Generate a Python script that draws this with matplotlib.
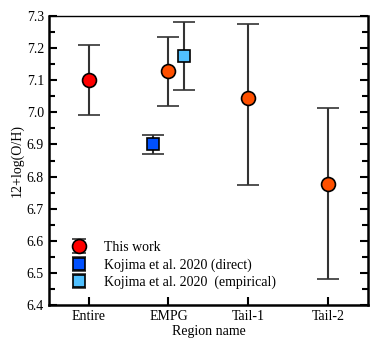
import matplotlib
matplotlib.use('Agg')
import matplotlib.pyplot as plt
from matplotlib.ticker import MultipleLocator
from matplotlib.legend_handler import HandlerErrorbar

plt.rcParams['font.family'] = ['Liberation Serif', 'DejaVu Serif']

# categories and data
regions = ['Entire', 'EMPG', 'Tail-1', 'Tail-2']

this_x = [0, 1, 2, 3]
this_val = [7.10, 7.128, 7.043, 6.777]
this_lo = [0.11, 0.108, 0.269, 0.296]
this_hi = [0.11, 0.107, 0.232, 0.237]
this_colors = ['#ff0000', '#ff5000', '#ff5000', '#ff5000']

kd_x = [0.8]
kd_val = [6.90]
kd_lo = [0.03]
kd_hi = [0.03]

ke_x = [1.2]
ke_val = [7.175]
ke_lo = [0.105]
ke_hi = [0.105]

fig, ax = plt.subplots(figsize=(3.81, 3.49), dpi=100)
fig.subplots_adjust(left=0.128, right=0.966, top=0.955, bottom=0.125)

ecol = '#333333'
for i in range(len(this_x)):
    ax.errorbar(this_x[i], this_val[i], yerr=[[this_lo[i]], [this_hi[i]]],
                fmt='o', ms=10, mfc=this_colors[i], mec='black', mew=1.2,
                ecolor=ecol, elinewidth=1.5, capsize=8, capthick=1.5,
                label='This work' if i == 0 else None, zorder=3)

ax.errorbar(kd_x, kd_val, yerr=[kd_lo, kd_hi], fmt='s', ms=9,
            mfc='#0050ff', mec='black', mew=1.2, ecolor=ecol, elinewidth=1.5,
            capsize=8, capthick=1.5, label='Kojima et al. 2020 (direct)', zorder=3)
ax.errorbar(ke_x, ke_val, yerr=[ke_lo, ke_hi], fmt='s', ms=9,
            mfc='#50c0ff', mec='black', mew=1.2, ecolor=ecol, elinewidth=1.5,
            capsize=8, capthick=1.5, label='Kojima et al. 2020  (empirical)', zorder=3)

ax.set_xlim(-0.5, 3.5)
ax.set_ylim(6.4, 7.3)
ax.set_xticks(range(len(regions)))
ax.set_xticklabels(regions)
ax.yaxis.set_major_locator(MultipleLocator(0.1))
ax.yaxis.set_minor_locator(MultipleLocator(0.05))
ax.yaxis.set_major_formatter(plt.FormatStrFormatter('%.1f'))
ax.tick_params(axis='y', which='both', direction='in', left=True, right=True,
               labelsize=10, width=1.5)
ax.tick_params(axis='y', which='major', length=6)
ax.tick_params(axis='y', which='minor', length=4)
ax.tick_params(axis='x', direction='in', length=6, width=1.5, labelsize=10)
for s in ['left', 'bottom', 'right']:
    ax.spines[s].set_linewidth(1.8)
ax.spines['top'].set_linewidth(1.0)

ax.set_xlabel('Region name', fontsize=10, labelpad=1)
ax.set_ylabel('12+log(O/H)', fontsize=10, labelpad=2)


class SmallCap(HandlerErrorbar):
    # shorter caps in the legend, about the marker width
    def create_artists(self, legend, orig_handle, xdescent, ydescent,
                       width, height, fontsize, trans):
        arts = super().create_artists(legend, orig_handle, xdescent, ydescent,
                                      width, height, fontsize, trans)
        for a in arts:
            if hasattr(a, 'get_marker') and a.get_marker() == '_':
                a.set_markersize(10)
        return arts


ax.legend(loc='lower left', bbox_to_anchor=(0.02, 0.012), frameon=False,
          fontsize=10, handletextpad=1.0, labelspacing=0.3, handlelength=1.6,
          handler_map={type(ax.containers[0]): SmallCap()})

fig.savefig('out.png', dpi=100)
